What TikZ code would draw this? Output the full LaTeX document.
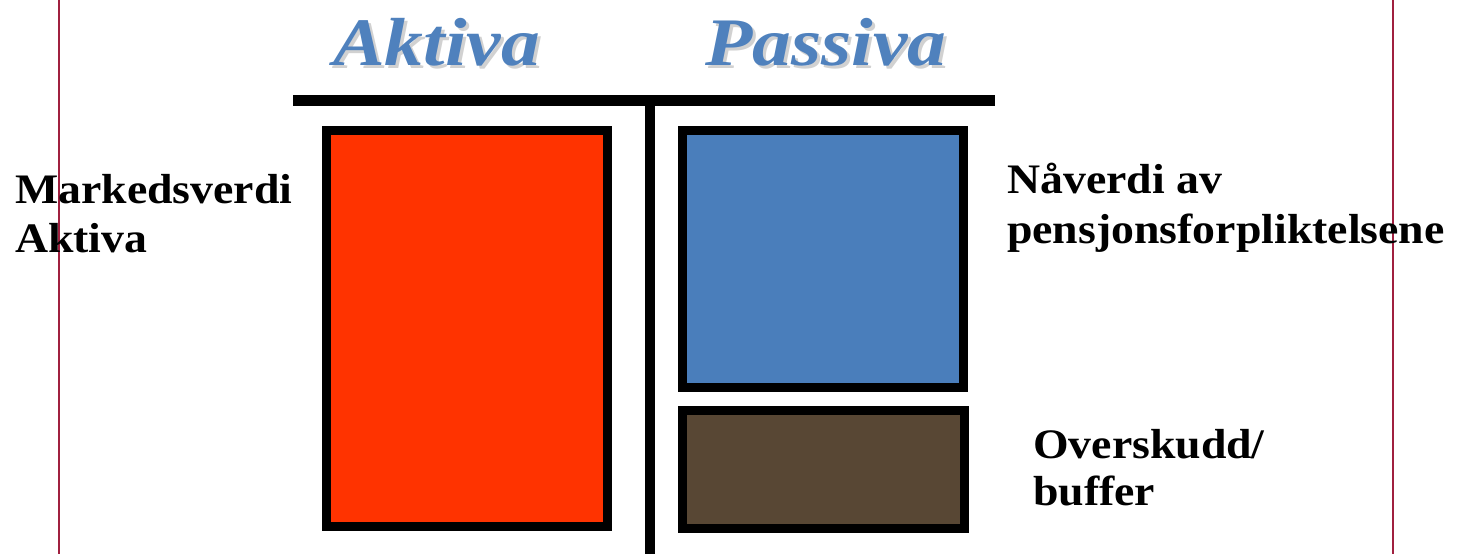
\documentclass[tikz,border=0pt]{standalone}
\usepackage{fontspec}
\setmainfont{Liberation Serif}
\newfontfamily\lblfont[FakeStretch=1.09]{Liberation Serif}
\newfontfamily\ttlfont[FakeStretch=1.14]{Liberation Serif}
\definecolor{boxred}{HTML}{FF3300}
\definecolor{boxblue}{HTML}{4A7EBB}
\definecolor{boxbrown}{HTML}{584734}
\definecolor{titleblue}{HTML}{4F81BD}
\definecolor{marginred}{HTML}{A0203F}
\tikzset{
  block/.style={draw=black, line width=9pt},
  lbl/.style={anchor=base west, inner sep=0pt, font=\lblfont\fontsize{42}{48}\selectfont\bfseries},
  ttl/.style={anchor=base west, inner sep=0pt, text=titleblue, font=\ttlfont\fontsize{68}{72}\selectfont\bfseries\itshape},
  shd/.style={anchor=base west, inner sep=0pt, text=black!18, font=\ttlfont\fontsize{68}{72}\selectfont\bfseries\itshape},
  bar/.style={line width=11pt, black},
  margin/.style={line width=1.2pt, marginred}
}
\begin{document}
\begin{tikzpicture}[x=1pt,y=-1pt]
\useasboundingbox (0,0) rectangle (1465,554);
% margin lines
\coordinate (m1t) at (59,0); \coordinate (m1b) at (59,554);
\coordinate (m2t) at (1393,0); \coordinate (m2b) at (1393,554);
\draw[margin] (m1t) -- (m1b);
\draw[margin] (m2t) -- (m2b);
% T bars
\coordinate (hl) at (293,100); \coordinate (hr) at (995,100);
\coordinate (vt) at (650,100); \coordinate (vb) at (650,554);
\draw[bar] (hl) -- (hr);
\draw[line width=10pt] (vt) -- (vb);
% boxes
\draw[block, fill=boxred] (326.5,130.5) rectangle (607.5,526.5);
\draw[block, fill=boxblue] (682.5,130.5) rectangle (963.5,387.5);
\draw[block, line width=8.5pt, fill=boxbrown] (682.5,410.5) rectangle (964.5,528.5);
% titles
\node[shd] (aktS) at (336,68) {Aktiva};
\node[shd] (pasS) at (708,68) {Passiva};
\node[ttl] (akt) at (333,65) {Aktiva};
\node[ttl] (pas) at (705,65) {Passiva};
% labels
\node[lbl] (mv1) at (15,203) {Markedsverdi};
\node[lbl] (mv2) at (15,252) {Aktiva};
\node[lbl] (nv1) at (1007,193) {Nåverdi av};
\node[lbl] (nv2) at (1007,243) {pensjonsforpliktelsene};
\node[lbl] (ov1) at (1033,458) {Overskudd/};
\node[lbl] (ov2) at (1033,505) {buffer};
\end{tikzpicture}
\end{document}
